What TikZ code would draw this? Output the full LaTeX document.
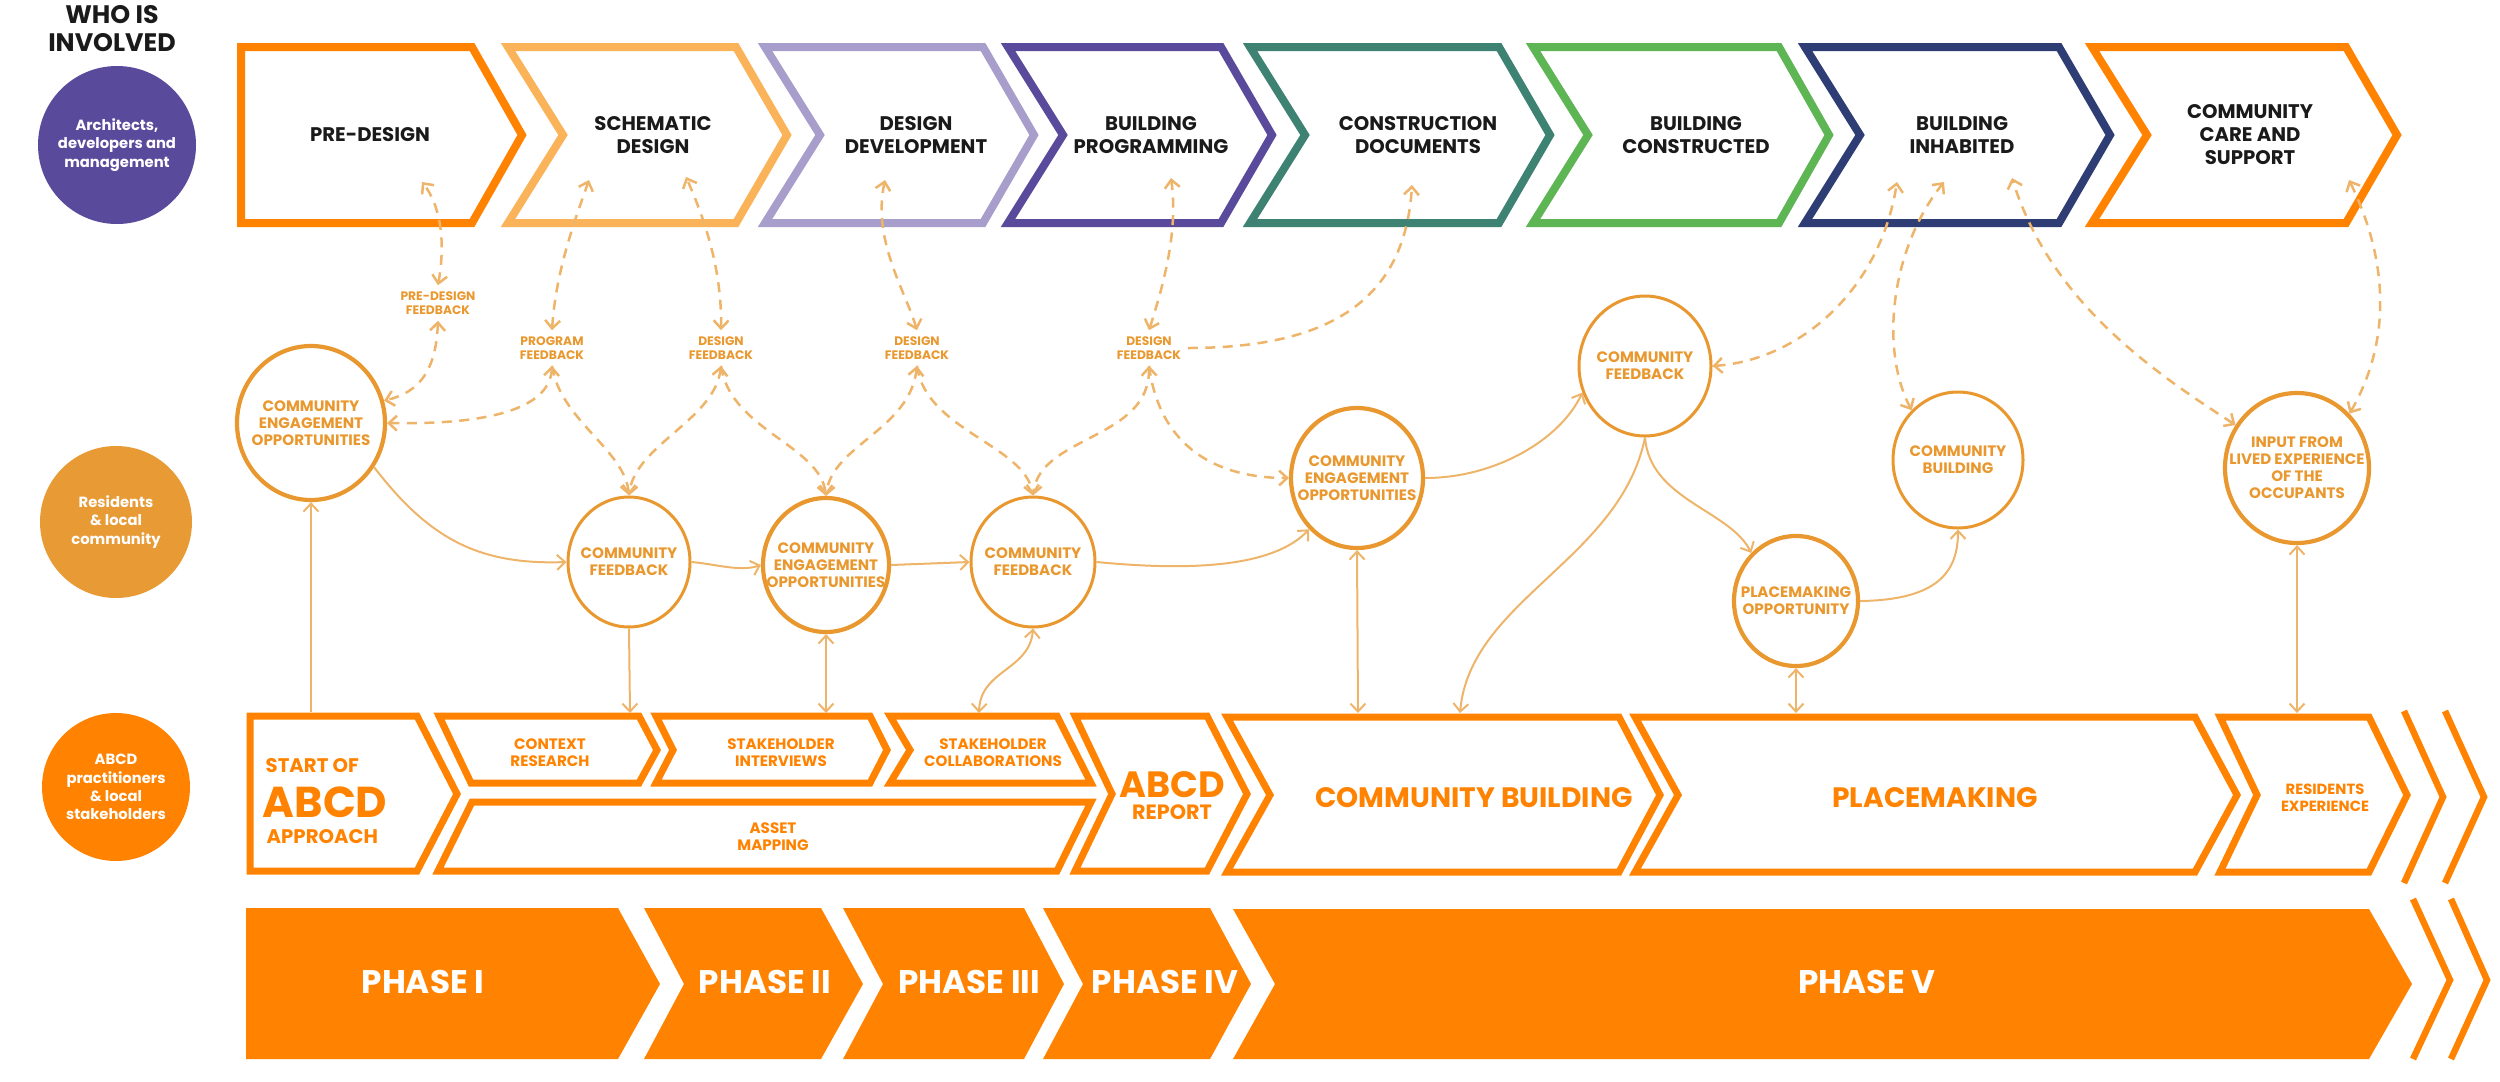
\documentclass[tikz,border=0pt]{standalone}
\usepackage{fontspec}
\setmainfont{Poppins}
\usetikzlibrary{shapes.geometric,arrows.meta}
\definecolor{oMain}{HTML}{FF8300}
\definecolor{oLight}{HTML}{FBB35A}
\definecolor{lav}{HTML}{A89ECB}
\definecolor{purp}{HTML}{5A4A9C}
\definecolor{teal}{HTML}{3D8272}
\definecolor{grn}{HTML}{5DB554}
\definecolor{navy}{HTML}{2E3E74}
\definecolor{amber}{HTML}{E9982F}
\definecolor{resi}{HTML}{E89A35}
\definecolor{conn}{HTML}{EDB46A}
\definecolor{ink}{HTML}{1A1A1A}
\newcommand\fTop{\fontsize{5.6pt}{6.55pt}\selectfont\bfseries}
\newcommand\fWho{\fontsize{7.2pt}{8pt}\selectfont\bfseries}
\newcommand\fCir{\fontsize{4.3pt}{4.85pt}\selectfont\bfseries}
\newcommand\fLab{\fontsize{3.5pt}{3.8pt}\selectfont\bfseries}
\newcommand\fLeft{\fontsize{4.2pt}{5.2pt}\selectfont\bfseries}
\newcommand\fBig{\fontsize{8pt}{9pt}\selectfont\bfseries}
\newcommand\fPh{\fontsize{9.3pt}{10pt}\selectfont\bfseries}
\begin{document}
\begin{tikzpicture}[x=0.1mm,y=-0.1mm,
  >={Straight Barb[length=0.8mm,width=1.5mm]},
  chev/.style={line width=0.8mm,line join=miter,fill=white},
  rowbox/.style={draw=oMain,line width=0.7mm,line join=miter,fill=white},
  ph/.style={fill=oMain},
  dbl/.style={draw=oMain,line width=0.65mm,line join=miter},
  circ/.style={ellipse,draw=amber,line width=0.3mm,inner sep=0pt},
  circb/.style={circ,line width=0.42mm},
  ctext/.style={align=center,text=amber,font=\fCir,inner sep=0pt},
  lab/.style={align=center,text=amber,font=\fLab,inner sep=0.6mm},
  toptext/.style={align=center,text=ink,font=\fTop},
  bigc/.style={circle,inner sep=0pt},
  lefttext/.style={align=center,text=white,font=\fLeft},
  rowtext/.style={align=center,text=oMain,font=\fCir},
  dsh/.style={draw=conn,line width=0.25mm,dash pattern=on 1mm off 0.75mm},
  sol/.style={draw=conn,line width=0.2mm}
]
\useasboundingbox (0,0) rectangle (2500,1081);

% ---------- left column ----------
\node[align=center,text=ink,font=\fWho] (who) at (112,29) {WHO IS\\INVOLVED};
\node[bigc,fill=purp,minimum size=15.8mm] (cArch) at (117,145) {};
\node[lefttext] (tArch) at (cArch) {Architects,\\developers and\\management};
\node[bigc,fill=resi,minimum size=15.2mm] (cRes) at (116,522) {};
\node[lefttext] (tRes) at (cRes) {Residents\\\& local\\community};
\node[bigc,fill=oMain,minimum size=14.8mm] (cAbcd) at (116,787) {};
\node[lefttext] (tAbcd) at (cAbcd) {ABCD\\practitioners\\\& local\\stakeholders};

% ---------- top chevrons ----------
\draw[chev,draw=oMain] (241,47) -- (472,47) -- (522,135) -- (472,223) -- (241,223) -- cycle;
\draw[chev,draw=oLight] (508,47) -- (736,47) -- (787,135) -- (736,223) -- (508,223) -- (563,135) -- cycle;
\draw[chev,draw=lav] (765,47) -- (983,47) -- (1034,135) -- (983,223) -- (765,223) -- (820,135) -- cycle;
\draw[chev,draw=purp] (1008,47) -- (1221,47) -- (1272,135) -- (1221,223) -- (1008,223) -- (1063,135) -- cycle;
\draw[chev,draw=teal] (1250,47) -- (1499,47) -- (1550,135) -- (1499,223) -- (1250,223) -- (1305,135) -- cycle;
\draw[chev,draw=grn] (1533,47) -- (1779,47) -- (1829,135) -- (1779,223) -- (1533,223) -- (1588,135) -- cycle;
\draw[chev,draw=navy] (1805,47) -- (2059,47) -- (2110,135) -- (2059,223) -- (1805,223) -- (1860,135) -- cycle;
\draw[chev,draw=oMain] (2092,47) -- (2346,47) -- (2397,135) -- (2346,223) -- (2092,223) -- (2147,135) -- cycle;

\node[toptext] (tPD) at (370,135) {PRE-DESIGN};
\node[toptext] (tSD) at (653,135) {SCHEMATIC\\DESIGN};
\node[toptext] (tDD) at (916,135) {DESIGN\\DEVELOPMENT};
\node[toptext] (tBP) at (1151,135) {BUILDING\\PROGRAMMING};
\node[toptext] (tCD) at (1418,135) {CONSTRUCTION\\DOCUMENTS};
\node[toptext] (tBC) at (1696,135) {BUILDING\\CONSTRUCTED};
\node[toptext] (tBI) at (1962,135) {BUILDING\\INHABITED};
\node[toptext] (tCC) at (2250,135) {COMMUNITY\\CARE AND\\SUPPORT};

\coordinate (pdA) at (422,182);
\coordinate (sdA) at (589,180);
\coordinate (sdB) at (686,177);
\coordinate (ddA) at (885,180);
\coordinate (bpA) at (1171,178);
\coordinate (cdA) at (1412,185);
\coordinate (biA) at (1897,182);
\coordinate (biB) at (1944,182);
\coordinate (biC) at (2012,178);
\coordinate (ccA) at (2349,180);

% ---------- feedback labels ----------
\node[lab] (fb0) at (438,303) {PRE-DESIGN\\FEEDBACK};
\node[lab] (fb1) at (552,348) {PROGRAM\\FEEDBACK};
\node[lab] (fb2) at (721,348) {DESIGN\\FEEDBACK};
\node[lab] (fb3) at (917,348) {DESIGN\\FEEDBACK};
\node[lab] (fb4) at (1149,348) {DESIGN\\FEEDBACK};

% ---------- middle circles ----------
\node[circb,minimum width=14.8mm,minimum height=15.4mm] (ceo1) at (311,423) {};
\node[ctext] (ceo1t) at (ceo1) {COMMUNITY\\ENGAGEMENT\\OPPORTUNITIES};
\node[circ,minimum width=12.2mm,minimum height=13mm] (cf1) at (629,562) {};
\node[ctext] (cf1t) at (cf1) {COMMUNITY\\FEEDBACK};
\node[circb,minimum width=12.6mm,minimum height=13.4mm] (ceo2) at (826,565) {};
\node[ctext] (ceo2t) at (ceo2) {COMMUNITY\\ENGAGEMENT\\OPPORTUNITIES};
\node[circ,minimum width=12.4mm,minimum height=13mm] (cf2) at (1033,562) {};
\node[ctext] (cf2t) at (cf2) {COMMUNITY\\FEEDBACK};
\node[circb,minimum width=13.2mm,minimum height=14mm] (ceo3) at (1357,478) {};
\node[ctext] (ceo3t) at (ceo3) {COMMUNITY\\ENGAGEMENT\\OPPORTUNITIES};
\node[circ,minimum width=13.2mm,minimum height=14mm] (cf3) at (1645,366) {};
\node[ctext] (cf3t) at (cf3) {COMMUNITY\\FEEDBACK};
\node[circ,minimum width=13mm,minimum height=13.6mm] (cb) at (1958,460) {};
\node[ctext] (cbt) at (cb) {COMMUNITY\\BUILDING};
\node[circb,minimum width=12.4mm,minimum height=13mm] (po) at (1796,601) {};
\node[ctext] (pot) at (po) {PLACEMAKING\\OPPORTUNITY};
\node[circb,minimum width=14.4mm,minimum height=15mm] (inp) at (2297,468) {};
\node[ctext] (inpt) at (inp) {INPUT FROM\\LIVED EXPERIENCE\\OF THE\\OCCUPANTS};

% ---------- bottom row ----------
\draw[rowbox] (250,716) -- (417,716) -- (457,794) -- (417,871) -- (250,871) -- cycle;
\draw[rowbox] (439,716) -- (639,716) -- (657,750) -- (639,783) -- (471,783) -- cycle;
\draw[rowbox] (656,716) -- (870,716) -- (887,750) -- (870,783) -- (656,783) -- (673,750) -- cycle;
\draw[rowbox] (890,716) -- (1057,716) -- (1091,783) -- (890,783) -- (910,750) -- cycle;
\draw[rowbox] (472,802) -- (1091,802) -- (1057,871) -- (438,871) -- cycle;
\draw[rowbox] (1075,716) -- (1207,716) -- (1247,794) -- (1207,871) -- (1075,871) -- (1112,794) -- cycle;
\draw[rowbox] (1227,717) -- (1619,717) -- (1660,795) -- (1619,872) -- (1227,872) -- (1270,795) -- cycle;
\draw[rowbox] (1635,717) -- (2195,717) -- (2237,795) -- (2195,872) -- (1635,872) -- (1678,795) -- cycle;
\draw[rowbox] (2220,717) -- (2369,717) -- (2407,795) -- (2369,872) -- (2220,872) -- (2257,795) -- cycle;
\draw[dbl] (2404,711) -- (2443,797) -- (2404,883);
\draw[dbl] (2445,711) -- (2484,797) -- (2445,883);

\node[anchor=base west,text=oMain,font=\fontsize{5.6pt}{6pt}\selectfont\bfseries,inner sep=0pt] (tSt1) at (265,772) {START OF};
\node[anchor=base west,text=oMain,font=\fontsize{12.3pt}{13pt}\selectfont\bfseries,inner sep=0pt] (tSt2) at (262,817) {ABCD};
\node[anchor=base west,text=oMain,font=\fontsize{5.6pt}{6pt}\selectfont\bfseries,inner sep=0pt] (tSt3) at (266,843) {APPROACH};
\node[rowtext] (tCR) at (550,753) {CONTEXT\\RESEARCH};
\node[rowtext] (tSI) at (781,753) {STAKEHOLDER\\INTERVIEWS};
\node[rowtext] (tSC) at (993,753) {STAKEHOLDER\\COLLABORATIONS};
\node[rowtext] (tAM) at (773,837) {ASSET\\MAPPING};
\node[anchor=base,text=oMain,font=\fontsize{10.4pt}{11pt}\selectfont\bfseries,inner sep=0pt] (tAR1) at (1172,797) {ABCD};
\node[anchor=base,text=oMain,font=\fontsize{5.9pt}{6pt}\selectfont\bfseries,inner sep=0pt] (tAR2) at (1172,819) {REPORT};
\node[text=oMain,font=\fBig] (tCB) at (1474,798) {COMMUNITY BUILDING};
\node[text=oMain,font=\fBig] (tPM) at (1935,798) {PLACEMAKING};
\node[rowtext,font=\fontsize{4.2pt}{4.85pt}\selectfont\bfseries] (tRE) at (2325,798) {RESIDENTS\\EXPERIENCE};

\coordinate (startT) at (311,712);
\coordinate (crT) at (630,713);
\coordinate (siT) at (826,713);
\coordinate (scT) at (979,713);
\coordinate (cbT) at (1460,713);
\coordinate (cbT2) at (1358,713);
\coordinate (pmT) at (1796,713);
\coordinate (reT) at (2297,713);

% ---------- phase row ----------
\fill[ph] (246,908) -- (618,908) -- (660,984) -- (618,1059) -- (246,1059) -- cycle;
\fill[ph] (644,908) -- (821,908) -- (863,984) -- (821,1059) -- (644,1059) -- (684,984) -- cycle;
\fill[ph] (843,908) -- (1024,908) -- (1064,984) -- (1024,1059) -- (843,1059) -- (883,984) -- cycle;
\fill[ph] (1043,908) -- (1210,908) -- (1251,984) -- (1210,1059) -- (1043,1059) -- (1083,984) -- cycle;
\fill[ph] (1233,909) -- (2369,909) -- (2412,984) -- (2369,1059) -- (1233,1059) -- (1275,984) -- cycle;
\draw[dbl] (2413,899) -- (2450,980) -- (2413,1059);
\draw[dbl] (2451,899) -- (2487,980) -- (2451,1059);
\node[text=white,font=\fPh] (p1) at (423,982) {PHASE I};
\node[text=white,font=\fPh] (p2) at (765,982) {PHASE II};
\node[text=white,font=\fPh] (p3) at (969,982) {PHASE III};
\node[text=white,font=\fPh] (p4) at (1165,982) {PHASE IV};
\node[text=white,font=\fPh] (p5) at (1867,982) {PHASE V};

% ---------- dashed connectors ----------
\draw[dsh,<->] (fb0.north) .. controls (446,240) and (440,205) .. (pdA);
\draw[dsh,<->] (fb0.south) .. controls (436,370) and (420,392) .. (ceo1.17);
\draw[dsh,<->] (fb1.north) .. controls (556,270) and (575,220) .. (sdA);
\draw[dsh,<->] (fb1.south) .. controls (550,405) and (500,425) .. (ceo1.east);
\draw[dsh,->] (fb1.south) .. controls (560,420) and (625,450) .. (cf1.north);
\draw[dsh,<->] (fb2.north) .. controls (722,270) and (705,220) .. (sdB);
\draw[dsh,<->] (fb2.south) .. controls (715,420) and (635,445) .. (cf1.north);
\draw[dsh,->] (fb2.south) .. controls (730,430) and (820,445) .. (ceo2.north);
\draw[dsh,<->] (fb3.north) .. controls (905,290) and (872,240) .. (ddA);
\draw[dsh,<->] (fb3.south) .. controls (910,430) and (832,445) .. (ceo2.north);
\draw[dsh,->] (fb3.south) .. controls (925,430) and (1025,445) .. (cf2.north);
\draw[dsh,<->] (fb4.north) .. controls (1165,280) and (1178,230) .. (bpA);
\draw[dsh,<->] (fb4.south) .. controls (1150,440) and (1040,435) .. (cf2.north);
\draw[dsh,->] (fb4.south) .. controls (1160,450) and (1220,478) .. (ceo3.west);
\draw[dsh,->] (fb4.east) .. controls (1330,348) and (1405,300) .. (cdA);
\draw[dsh,<->] (cf3.east) .. controls (1800,360) and (1880,290) .. (biA);
\draw[dsh,<->] (cb.133) .. controls (1880,350) and (1890,250) .. (biB);
\draw[dsh,<->] (inp.145) .. controls (2150,370) and (2050,300) .. (biC);
\draw[dsh,<->] (inp.46) .. controls (2392,340) and (2388,260) .. (ccA);

% ---------- solid connectors ----------
\draw[sol,->] (startT) -- (ceo1.south);
\draw[sol,->] (ceo1.-35) .. controls (430,540) and (480,565) .. (cf1.west);
\draw[sol,->] (cf1.east) .. controls (715,564) and (740,572) .. (ceo2.west);
\draw[sol,->] (ceo2.east) -- (cf2.west);
\draw[sol,->] (cf2.east) .. controls (1200,572) and (1275,565) .. (ceo3.-133);
\draw[sol,->] (ceo3.east) .. controls (1495,478) and (1560,440) .. (cf3.-157);
\draw[sol,->] (cf3.south) .. controls (1650,500) and (1730,510) .. (po.133);
\draw[sol,->] (cf3.south) .. controls (1620,560) and (1470,600) .. (cbT);
\draw[sol,->] (po.east) .. controls (1940,600) and (1958,570) .. (cb.south);
\draw[sol,<->] (ceo3.south) -- (cbT2);
\draw[sol,<->] (po.south) -- (pmT);
\draw[sol,<->] (inp.south) -- (reT);
\draw[sol,->] (cf1.south) -- (crT);
\draw[sol,<->] (ceo2.south) -- (siT);
\draw[sol,<->] (cf2.south) .. controls (1030,670) and (980,670) .. (scT);
\end{tikzpicture}
\end{document}
